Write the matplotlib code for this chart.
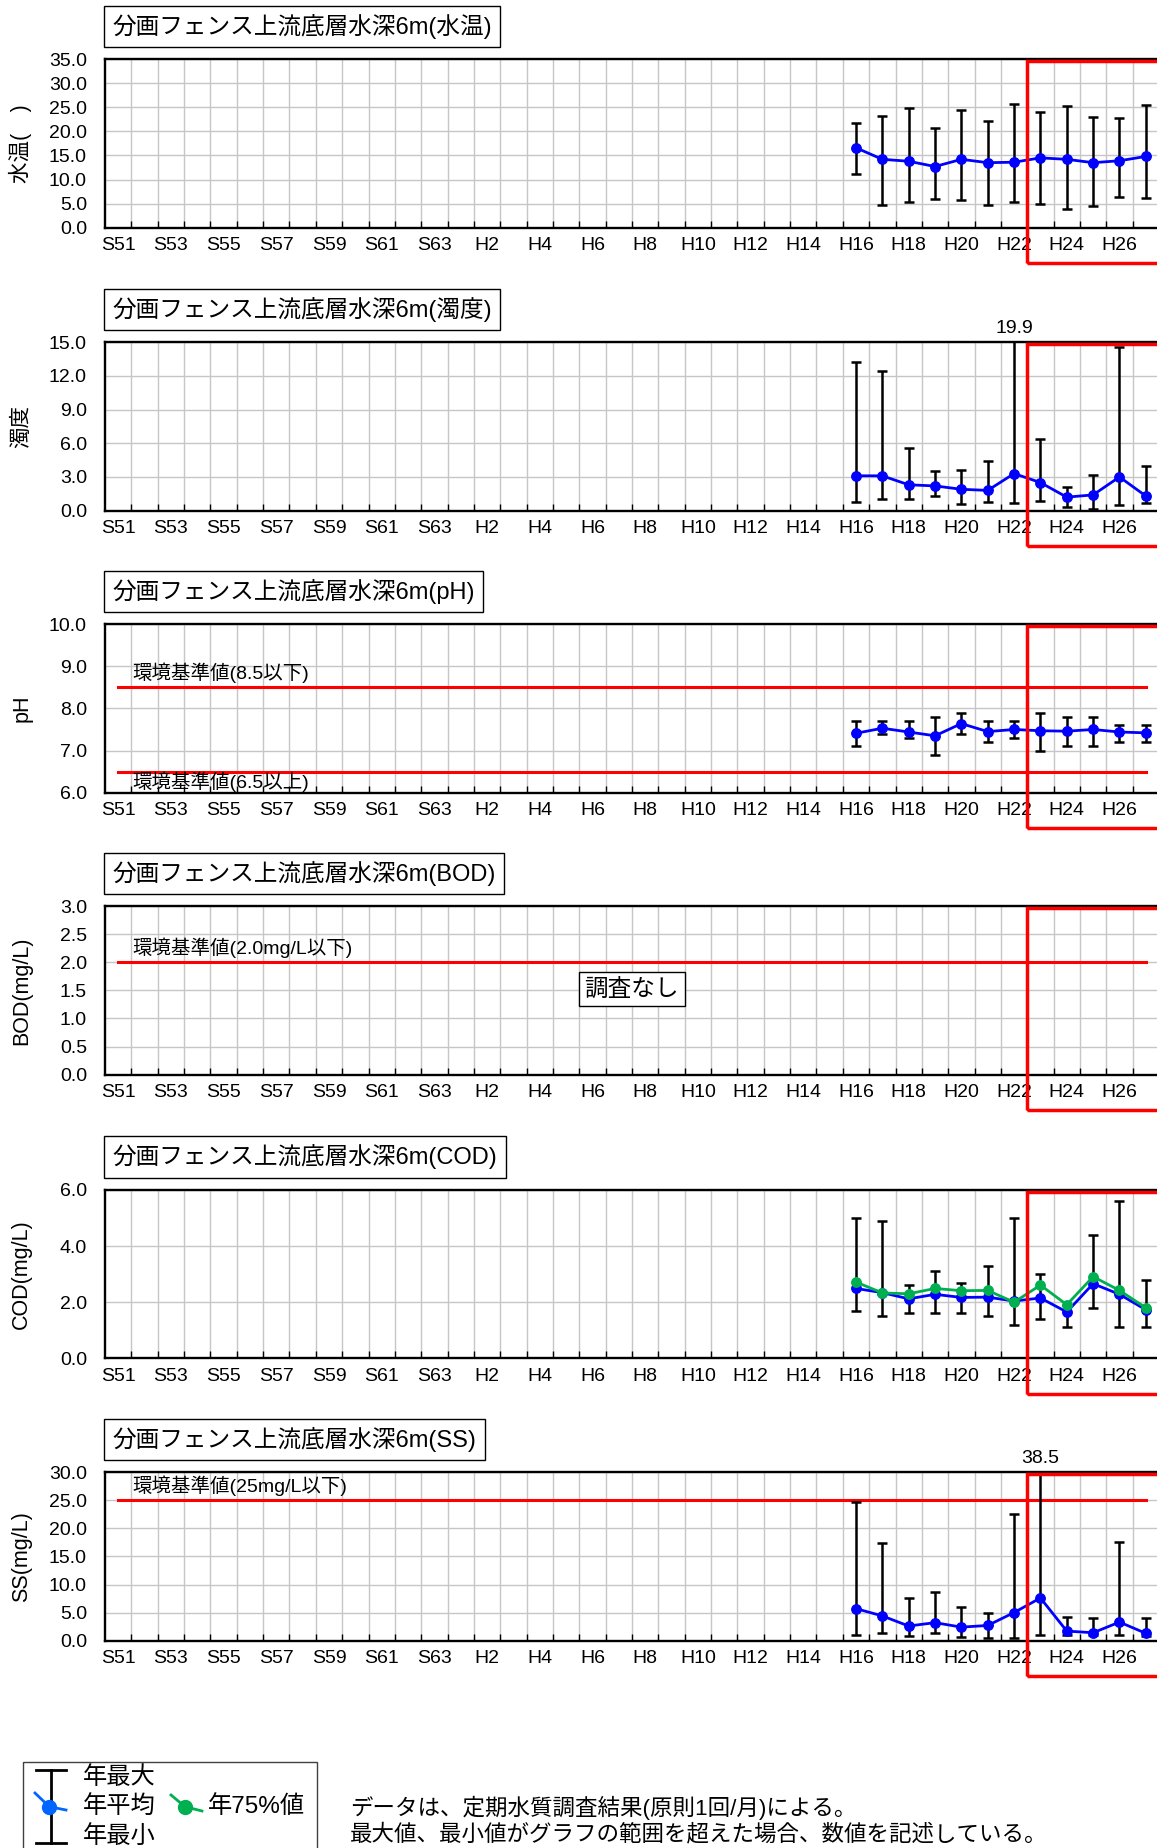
import numpy as np
import matplotlib
matplotlib.use("Agg")
import matplotlib.pyplot as plt
import matplotlib.patches as mpatches
from matplotlib.ticker import FormatStrFormatter
from matplotlib.transforms import blended_transform_factory

JP = ["Liberation Sans", "Noto Sans CJK JP", "DejaVu Sans"]
plt.rcParams["font.family"] = JP
plt.rcParams["axes.unicode_minus"] = False

# ---- data ----
categories = ["S51", "S52", "S53", "S54", "S55", "S56", "S57", "S58", "S59", "S60",
              "S61", "S62", "S63", "H1", "H2", "H3", "H4", "H5", "H6", "H7",
              "H8", "H9", "H10", "H11", "H12", "H13", "H14", "H15", "H16", "H17",
              "H18", "H19", "H20", "H21", "H22", "H23", "H24", "H25", "H26", "H27"]
data_years = ["H16", "H17", "H18", "H19", "H20", "H21", "H22", "H23", "H24", "H25", "H26", "H27"]

temp_mean = [16.6, 14.2, 13.8, 12.7, 14.2, 13.5, 13.6, 14.5, 14.2, 13.5, 13.9, 14.8]
temp_max = [21.8, 23.2, 24.9, 20.8, 24.4, 22.1, 25.8, 24.1, 25.2, 22.9, 22.8, 25.4]
temp_min = [11.1, 4.6, 5.3, 5.9, 5.7, 4.7, 5.3, 4.9, 3.8, 4.5, 6.3, 6.1]

turb_mean = [3.1, 3.1, 2.3, 2.2, 1.9, 1.8, 3.3, 2.5, 1.2, 1.4, 3.0, 1.3]
turb_max = [13.2, 12.4, 5.6, 3.5, 3.6, 4.4, 19.9, 6.4, 2.1, 3.2, 14.6, 4.0]
turb_min = [0.8, 1.0, 1.0, 1.3, 0.6, 0.8, 0.7, 0.9, 0.3, 0.1, 0.5, 0.7]

ph_mean = [7.41, 7.53, 7.44, 7.35, 7.64, 7.45, 7.50, 7.47, 7.46, 7.50, 7.44, 7.42]
ph_max = [7.7, 7.7, 7.7, 7.8, 7.9, 7.7, 7.7, 7.9, 7.8, 7.8, 7.6, 7.6]
ph_min = [7.1, 7.4, 7.3, 6.9, 7.4, 7.2, 7.3, 7.0, 7.1, 7.1, 7.2, 7.2]

cod_mean = [2.49, 2.34, 2.12, 2.28, 2.17, 2.18, 2.04, 2.15, 1.65, 2.66, 2.28, 1.73]
cod_p75 = [2.72, 2.33, 2.30, 2.49, 2.41, 2.42, 2.00, 2.61, 1.91, 2.91, 2.42, 1.80]
cod_max = [5.0, 4.9, 2.6, 3.1, 2.7, 3.3, 5.0, 3.0, 1.9, 4.4, 5.6, 2.8]
cod_min = [1.7, 1.5, 1.6, 1.6, 1.6, 1.5, 1.2, 1.4, 1.1, 1.8, 1.1, 1.1]

ss_mean = [5.7, 4.4, 2.6, 3.2, 2.4, 2.7, 5.0, 7.6, 1.7, 1.4, 3.3, 1.3]
ss_max = [24.7, 17.4, 7.6, 8.6, 6.0, 5.0, 22.6, 38.5, 4.2, 4.1, 17.5, 4.0]
ss_min = [1.0, 1.3, 0.8, 1.3, 0.6, 0.5, 0.5, 1.0, 1.0, 1.0, 1.0, 0.9]

W, H = 1157, 1848
fig = plt.figure(figsize=(W / 100, H / 100), dpi=100)
fig.patch.set_facecolor("white")

# overlay axes in pixel coords for boxes / notes
ov = fig.add_axes([0, 0, 1, 1], zorder=10)
ov.set_xlim(0, W)
ov.set_ylim(H, 0)
ov.axis("off")

AX_LEFT = 105
CAT_W = 26.35
AX_H = 168.3


def make_axes(top):
    width = CAT_W * len(categories)
    return fig.add_axes([AX_LEFT / W, 1 - (top + AX_H) / H, width / W, AX_H / H])


def style_axes(ax, lo, hi, step, ylabel):
    ax.set_xlim(-0.5, len(categories) - 0.5)
    ax.set_ylim(lo, hi)
    ax.set_yticks(np.arange(lo, hi + step / 2, step))
    ax.yaxis.set_major_formatter(FormatStrFormatter("%.1f"))
    ax.set_xticks(range(0, len(categories), 2))
    ax.set_xticklabels(categories[::2])
    ax.set_xticks(np.arange(0.5, len(categories) - 0.5, 1), minor=True)
    ax.grid(which="minor", axis="x", color="#c6c6c6", lw=1)
    ax.grid(which="major", axis="y", color="#c6c6c6", lw=1)
    ax.set_axisbelow(True)
    ax.tick_params(axis="x", which="major", length=0, labelsize=14, pad=7)
    ax.tick_params(axis="x", which="minor", direction="in", length=5, width=1, color="black")
    ax.tick_params(axis="y", length=0, labelsize=14, pad=13)
    for s in ("left", "bottom", "top"):
        ax.spines[s].set_linewidth(1.7)
        ax.spines[s].set_color("black")
    ax.spines["right"].set_visible(False)
    ax.set_ylabel(ylabel, fontsize=15.5, family=JP)
    ax.yaxis.set_label_coords(-0.069, 0.5)
    # red box over recent years
    tr = blended_transform_factory(ax.transData, ax.transAxes)
    ax.add_patch(mpatches.Rectangle((34.5, -0.21), 10, 1.2, transform=tr, fill=False,
                                    edgecolor="red", lw=2.5, clip_on=False, zorder=6))


def title_box(top, text):
    ov.text(112.5, top - 33, text, fontsize=17, family=JP, ha="left", va="center",
            bbox=dict(boxstyle="square,pad=0.35", fc="white", ec="black", lw=1))


def std_line(ax, val, label, above=True):
    ax.plot([0, len(categories) - 1], [val, val], color="red", lw=2.2, zorder=2.5)
    ax.annotate(label, xy=(0.52, val), xytext=(0, 10.5 if above else -7.5),
                textcoords="offset points", fontsize=14, family=JP,
                ha="left", va="center", zorder=5)


def series(ax, mean, vmax, vmin, p75=None):
    x = [categories.index(y) for y in data_years]
    mean = np.array(mean)
    ax.errorbar(x, mean, yerr=[mean - np.array(vmin), np.array(vmax) - mean], fmt="none",
                ecolor="black", elinewidth=1.8, capsize=3.4, capthick=1.8, zorder=3)
    ax.plot(x, mean, "-o", color="#0000FF", lw=2, ms=6.8, zorder=4)
    if p75 is not None:
        ax.plot(x, p75, "-o", color="#00B050", lw=2, ms=6.8, zorder=4.5)


def over_label(ax, year, value):
    tr = blended_transform_factory(ax.transData, ax.transAxes)
    ax.annotate(f"{value:.1f}", xy=(categories.index(year), 1.0), xycoords=tr,
                xytext=(0, 10), textcoords="offset points", fontsize=14,
                ha="center", va="center", annotation_clip=False)


tops = [59.3, 342.3, 624.3, 906.3, 1190.0, 1472.3]

# 水温
ax1 = make_axes(tops[0])
style_axes(ax1, 0, 35, 5, "水温(　)")
series(ax1, temp_mean, temp_max, temp_min)
title_box(tops[0], "分画フェンス上流底層水深6m(水温)")

# 濁度
ax2 = make_axes(tops[1])
style_axes(ax2, 0, 15, 3, "濁度")
series(ax2, turb_mean, turb_max, turb_min)
over_label(ax2, "H22", 19.9)
title_box(tops[1], "分画フェンス上流底層水深6m(濁度)")

# pH
ax3 = make_axes(tops[2])
style_axes(ax3, 6, 10, 1, "pH")
std_line(ax3, 8.5, "環境基準値(8.5以下)")
std_line(ax3, 6.5, "環境基準値(6.5以上)", above=False)
series(ax3, ph_mean, ph_max, ph_min)
title_box(tops[2], "分画フェンス上流底層水深6m(pH)")

# BOD
ax4 = make_axes(tops[3])
style_axes(ax4, 0, 3, 0.5, "BOD(mg/L)")
std_line(ax4, 2.0, "環境基準値(2.0mg/L以下)")
title_box(tops[3], "分画フェンス上流底層水深6m(BOD)")
ov.text(631.7, 989.3, "調査なし", fontsize=17, family=JP, ha="center", va="center",
        bbox=dict(boxstyle="square,pad=0.25", fc="white", ec="black", lw=1))

# COD
ax5 = make_axes(tops[4])
style_axes(ax5, 0, 6, 2, "COD(mg/L)")
series(ax5, cod_mean, cod_max, cod_min, p75=cod_p75)
title_box(tops[4], "分画フェンス上流底層水深6m(COD)")

# SS
ax6 = make_axes(tops[5])
style_axes(ax6, 0, 30, 5, "SS(mg/L)")
std_line(ax6, 25, "環境基準値(25mg/L以下)")
series(ax6, ss_mean, ss_max, ss_min)
over_label(ax6, "H23", 38.5)
title_box(tops[5], "分画フェンス上流底層水深6m(SS)")

# ---- legend ----
ov.add_patch(mpatches.Rectangle((22.7, 1762.3), 294, 110, fill=False, ec="#404040", lw=1,
                                clip_on=False))
ov.plot([51, 51], [1770, 1843], color="black", lw=2)
ov.plot([36, 66], [1770, 1770], color="black", lw=2)
ov.plot([36, 66], [1843, 1843], color="black", lw=2)
ov.plot([35, 49.3, 66], [1793, 1806.7, 1810], color="#0066FF", lw=2)
ov.plot([49.3], [1806.7], "o", color="#0066FF", ms=10)
ov.plot([171, 185, 202], [1795, 1806.7, 1811], color="#00B050", lw=2)
ov.plot([185], [1806.7], "o", color="#00B050", ms=10)
ov.text(83, 1778, "年最大", fontsize=17.5, family=JP, va="center")
ov.text(83, 1806.7, "年平均", fontsize=17.5, family=JP, va="center")
ov.text(83, 1836.7, "年最小", fontsize=17.5, family=JP, va="center")
ov.text(208, 1806.7, "年75%値", fontsize=17.5, family=JP, va="center")

ov.text(350, 1808, "データは、定期水質調査結果(原則1回/月)による。", fontsize=16.2, family=JP,
        va="center")
ov.text(350, 1834, "最大値、最小値がグラフの範囲を超えた場合、数値を記述している。", fontsize=16.2,
        family=JP, va="center")

fig.savefig("out.png", dpi=100)
